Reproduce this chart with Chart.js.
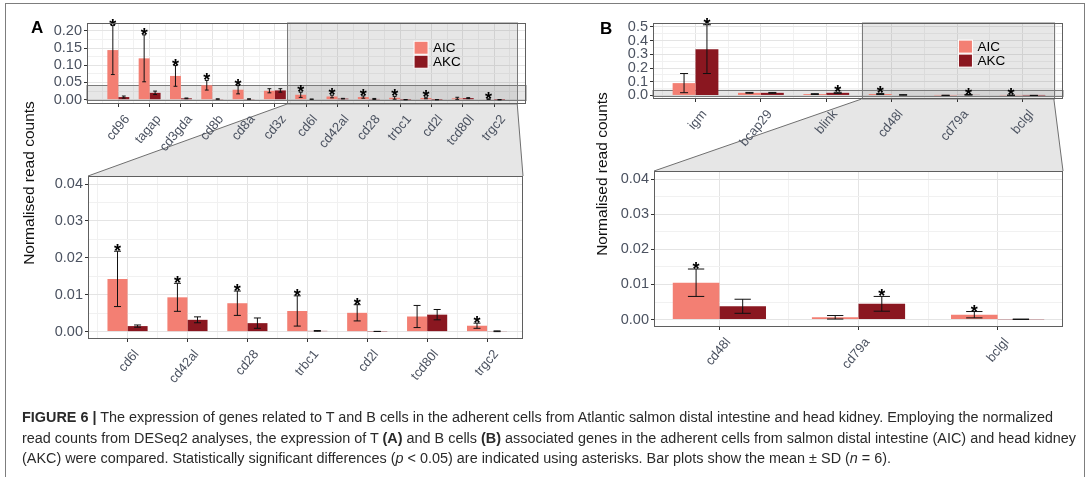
<!DOCTYPE html>
<html>
<head>
<meta charset="utf-8">
<script src="https://cdn.jsdelivr.net/npm/chart.js@4.4.0/dist/chart.umd.min.js"></script>
<style>
  body { margin: 0; background: #fff; width: 1089px; height: 477px; overflow: hidden; position: relative; font-family: "Liberation Sans", Arial, sans-serif; }
  .frame { position: absolute; left: 5px; top: 3px; width: 1078px; height: 500px; border: 1px solid #7d7d7d; }
  canvas { position: absolute; }
  .letter { position: absolute; font-weight: bold; font-size: 17px; color: #000; line-height: 18px; }
  .ytitle { position: absolute; font-size: 15.5px; color: #111; white-space: nowrap; transform: translate(-50%, -50%) rotate(-90deg); }
  .cap { position: absolute; left: 22px; white-space: nowrap; font-size: 14px; line-height: 18px; color: #2a2a2a; transform-origin: 0 50%; }
</style>
</head>
<body>
<div class="frame"></div>
<canvas id="links" width="1089" height="477" style="left:0;top:0"></canvas>

<div class="letter" style="left:31px;top:19px">A</div>
<div class="letter" style="left:600px;top:20px">B</div>
<div class="ytitle" style="left:29px;top:183px">Normalised read counts</div>
<div class="ytitle" style="left:602px;top:174px">Normalised read counts</div>

<div class="cap" id="cap1" style="top:408px"><b>FIGURE 6 |</b> The expression of genes related to T and B cells in the adherent cells from Atlantic salmon distal intestine and head kidney. Employing the normalized</div>
<div class="cap" id="cap2" style="top:429px">read counts from DESeq2 analyses, the expression of T <b>(A)</b> and B cells <b>(B)</b> associated genes in the adherent cells from salmon distal intestine (AIC) and head kidney</div>
<div class="cap" id="cap3" style="top:449px">(AKC) were compared. Statistically significant differences (<i>p</i> &lt; 0.05) are indicated using asterisks. Bar plots show the mean ± SD (<i>n</i> = 6).</div>

<script>
// T cell genes (panel A)
const genesA = ["cd96", "tagap", "cd3gda", "cd8b", "cd8a", "cd3z", "cd6l", "cd42al", "cd28", "trbc1", "cd2l", "tcd80l", "trgc2"];
const aicA   = [0.144, 0.120, 0.069, 0.042, 0.029, 0.026, 0.0143, 0.0093, 0.0077, 0.0056, 0.0051, 0.0041, 0.0016];
const aicSdA = [0.071, 0.068, 0.030, 0.014, 0.012, 0.006, 0.0075, 0.0038, 0.0033, 0.0041, 0.0022, 0.0030, 0.0007];
const akcA   = [0.0077, 0.020, 0.004, 0.002, 0.002, 0.027, 0.0015, 0.0032, 0.0023, 0.0002, 0.00005, 0.0046, 0.0001];
const akcSdA = [0.003, 0.005, 0.001, 0.0005, 0.0005, 0.005, 0.0003, 0.0008, 0.0014, 0.0001, 0.00002, 0.0014, 0.0001];
const sigAicA = [1, 1, 1, 1, 1, 0, 1, 1, 1, 1, 1, 0, 1];
const sigAkcA = [0, 0, 0, 0, 0, 0, 0, 0, 0, 0, 0, 0, 0];

// B cell genes (panel B)
const genesB = ["igm", "bcap29", "blink", "cd48l", "cd79a", "bclgl"];
const aicB   = [0.090, 0.019, 0.010, 0.0105, 0.00066, 0.0014];
const aicSdB = [0.070, 0.003, 0.003, 0.0039, 0.0005, 0.0009];
const akcB   = [0.338, 0.019, 0.019, 0.0038, 0.0045, 0.0001];
const akcSdB = [0.178, 0.003, 0.004, 0.0020, 0.0021, 0.00005];
const sigAicB = [0, 0, 0, 1, 0, 1];
const sigAkcB = [1, 0, 1, 0, 1, 0];

const seriesNames = ["AIC", "AKC"];
const seriesColors = ["#f37f73", "#8a1720"];

const yTicksA = [0, 0.05, 0.10, 0.15, 0.20];
const yTicksB = [0, 0.1, 0.2, 0.3, 0.4, 0.5];
const yTicksZoom = [0, 0.01, 0.02, 0.03, 0.04];

const tickGrey = "#4b5260";
const ML = 70, MT = 12, MR = 16, MB = 62;

function steps(min, max, step) {
    const out = [];
    for (let k = Math.ceil(min / step - 1e-9); k * step <= max + 1e-12; k++) out.push(+(k * step).toFixed(6));
    return out;
}

const panelPlugin = {
    id: "panel",
    beforeDatasetsDraw(chart, args, o) {
        if (!o.band) return;
        const { ctx, chartArea: a, scales: { x, y } } = chart;
        ctx.save();
        ctx.fillStyle = "rgba(120,120,120,0.18)";
        ctx.strokeStyle = "#7a7a7a";
        ctx.lineWidth = 1;
        const x0 = x.getPixelForValue(o.band.x[0]), x1 = x.getPixelForValue(o.band.x[1]);
        ctx.fillRect(x0, a.top, x1 - x0, a.bottom - a.top);
        ctx.strokeRect(Math.round(x0) + 0.5, a.top, Math.round(x1 - x0), a.bottom - a.top);
        const y0 = y.getPixelForValue(o.band.y[1]), y1 = y.getPixelForValue(o.band.y[0]);
        ctx.fillRect(a.left, y0, a.right - a.left, y1 - y0);
        ctx.strokeRect(a.left, Math.round(y0) + 0.5, a.right - a.left, Math.round(y1 - y0));
        ctx.restore();
    },
    afterDatasetsDraw(chart, args, o) {
        const { ctx, chartArea: a, scales: { y } } = chart;
        ctx.save();
        ctx.strokeStyle = "#111";
        ctx.lineWidth = 1;
        ctx.fillStyle = "#000";
        ctx.font = "bold 18px 'Liberation Sans', Arial";
        ctx.textAlign = "center";
        ctx.textBaseline = "alphabetic";
        chart.data.datasets.forEach((ds, di) => {
            chart.getDatasetMeta(di).data.forEach((bar, i) => {
                const { x: bx, width } = bar.getProps(["x", "width"], true);
                const m = ds.data[i].y, sd = o.sd[di][i];
                const top = y.getPixelForValue(m + sd), bot = y.getPixelForValue(m - sd);
                const cap = width * 0.175;
                ctx.beginPath();
                ctx.moveTo(bx, top); ctx.lineTo(bx, bot);
                ctx.moveTo(bx - cap, top); ctx.lineTo(bx + cap, top);
                ctx.moveTo(bx - cap, bot); ctx.lineTo(bx + cap, bot);
                ctx.stroke();
                if (o.sig[di][i]) ctx.fillText("*", bx, top + 6);
            });
        });
        // panel border
        ctx.strokeStyle = "#5f5f5f";
        ctx.strokeRect(a.left + 0.5, a.top + 0.5, a.right - a.left - 1, a.bottom - a.top - 1);
        // legend inside the panel
        if (o.legend) {
            const lx = a.left + 0.745 * (a.right - a.left), ly = a.top + 0.225 * (a.bottom - a.top);
            ctx.font = "13.5px 'Liberation Sans', Arial";
            ctx.textAlign = "left";
            ctx.textBaseline = "middle";
            chart.data.datasets.forEach((ds, k) => {
                ctx.fillStyle = ds.backgroundColor;
                ctx.fillRect(lx, ly + k * 14, 14, 13);
                ctx.strokeStyle = "#fff";
                ctx.strokeRect(lx, ly + k * 14, 14, 13);
                ctx.fillStyle = "#000";
                ctx.fillText(ds.label, lx + 19, ly + k * 14 + 7);
            });
        }
        ctx.restore();
    }
};

function makePanel(cfg) {
    const r = cfg.rect;
    const canvas = document.createElement("canvas");
    const w = r.r - r.l + ML + MR, h = r.b - r.t + MT + MB;
    canvas.width = w; canvas.height = h;
    canvas.style.left = (r.l - ML) + "px";
    canvas.style.top = (r.t - MT) + "px";
    document.body.appendChild(canvas);

    const xVals = steps(cfg.xRange[0], cfg.xRange[1], 0.5);
    const yStep = cfg.yTicks[1] - cfg.yTicks[0];
    const yVals = steps(cfg.yRange[0], cfg.yRange[1], yStep / 2);
    const isMajorX = (v) => Number.isInteger(v);
    const isMajorY = (v) => Math.abs(v / yStep - Math.round(v / yStep)) < 1e-6;

    const series = [cfg.aic, cfg.akc];
    const datasets = seriesNames.map((name, k) => ({
        label: name,
        data: cfg.genes.map((g, i) => ({ x: i, y: series[k][i] })),
        backgroundColor: seriesColors[k],
        borderWidth: 0,
        barPercentage: 1,
        // minor grid ticks halve the ruler spacing, so double the share
        categoryPercentage: 2 * cfg.barFrac,
    }));

    const noPad = (s) => { s.paddingLeft = s.paddingRight = s.paddingTop = s.paddingBottom = 0; };

    return new Chart(canvas, {
        type: "bar",
        data: { datasets },
        options: {
            responsive: false,
            animation: false,
            layout: { padding: { top: MT, right: MR, left: 0, bottom: 0 } },
            plugins: {
                legend: { display: false },
                tooltip: { enabled: false },
                panel: { sd: [cfg.aicSd, cfg.akcSd], sig: [cfg.sigAic, cfg.sigAkc], band: cfg.band, legend: cfg.legend },
            },
            scales: {
                x: {
                    type: "linear",
                    min: cfg.xRange[0], max: cfg.xRange[1],
                    offset: false,
                    border: { display: false },
                    grid: {
                        offset: false,
                        tickLength: 3,
                        color: (c) => isMajorX(c.tick.value) ? "#e4e4e4" : "#f1f1f1",
                        tickColor: (c) => isMajorX(c.tick.value) ? "#333" : "rgba(0,0,0,0)",
                    },
                    ticks: {
                        autoSkip: false, minRotation: 50, maxRotation: 50, padding: 5, labelOffset: 9,
                        color: tickGrey, font: { size: 13, family: "'Liberation Sans', Arial" },
                        callback: (v) => isMajorX(v) ? cfg.genes[v] : "",
                    },
                    afterBuildTicks: (s) => { s.ticks = xVals.map((v) => ({ value: v })); },
                    afterFit: (s) => { s.height = MB; noPad(s); },
                },
                y: {
                    min: cfg.yRange[0], max: cfg.yRange[1],
                    border: { display: false },
                    grid: {
                        tickLength: 3,
                        color: (c) => isMajorY(c.tick.value) ? "#e4e4e4" : "#f1f1f1",
                        tickColor: (c) => isMajorY(c.tick.value) ? "#333" : "rgba(0,0,0,0)",
                    },
                    ticks: {
                        autoSkip: false, padding: 2,
                        color: tickGrey, font: { size: 14.5, family: "'Liberation Sans', Arial" },
                        callback: (v) => isMajorY(v) ? v.toFixed(cfg.yDigits) : "",
                    },
                    afterBuildTicks: (s) => { s.ticks = yVals.map((v) => ({ value: v })); },
                    afterFit: (s) => { s.width = ML; noPad(s); },
                },
            },
        },
        plugins: [panelPlugin],
    });
}

const zoomA = { x: [5.39, 12.74], y: [-0.002, 0.0422] };
const zoomB = { x: [2.54, 5.48], y: [-0.0021, 0.0423] };

const chartA1 = makePanel({
    rect: { l: 87, t: 23, r: 526, b: 104 },
    genes: genesA, aic: aicA, akc: akcA, aicSd: aicSdA, akcSd: akcSdA, sigAic: sigAicA, sigAkc: sigAkcA,
    xRange: [-1, 13.02], yRange: [-0.0124, 0.2225], yTicks: yTicksA, yDigits: 2,
    barFrac: 0.7, band: zoomA, legend: true,
});
const chartA2 = makePanel({
    rect: { l: 88, t: 176, r: 523, b: 339 },
    genes: genesA.slice(6), aic: aicA.slice(6), akc: akcA.slice(6), aicSd: aicSdA.slice(6), akcSd: akcSdA.slice(6),
    sigAic: sigAicA.slice(6), sigAkc: sigAkcA.slice(6),
    xRange: [-0.66, 6.6], yRange: zoomA.y, yTicks: yTicksZoom, yDigits: 2,
    barFrac: 0.67, band: null, legend: false,
});
const chartB1 = makePanel({
    rect: { l: 653, t: 23, r: 1063, b: 99 },
    genes: genesB, aic: aicB, akc: akcB, aicSd: aicSdB, akcSd: akcSdB, sigAic: sigAicB, sigAkc: sigAkcB,
    xRange: [-0.65, 5.62], yRange: [-0.026, 0.529], yTicks: yTicksB, yDigits: 1,
    barFrac: 0.7, band: zoomB, legend: true,
});
const chartB2 = makePanel({
    rect: { l: 654, t: 171, r: 1063, b: 327 },
    genes: genesB.slice(3), aic: aicB.slice(3), akc: akcB.slice(3), aicSd: aicSdB.slice(3), akcSd: akcSdB.slice(3),
    sigAic: sigAicB.slice(3), sigAkc: sigAkcB.slice(3),
    xRange: [-0.47, 2.47], yRange: zoomB.y, yTicks: yTicksZoom, yDigits: 2,
    barFrac: 0.67, band: null, legend: false,
});

// grey funnel from the zoom window to the zoomed panel
function drawLink(top, bottom, band) {
    const ctx = document.getElementById("links").getContext("2d");
    const tx = top.canvas.offsetLeft, ty = top.canvas.offsetTop;
    const bx = bottom.canvas.offsetLeft, by = bottom.canvas.offsetTop;
    const x0 = tx + top.scales.x.getPixelForValue(band.x[0]);
    const x1 = tx + top.scales.x.getPixelForValue(band.x[1]);
    const y0 = ty + top.chartArea.bottom;
    const l = bx + bottom.chartArea.left, r = bx + bottom.chartArea.right, y1 = by + bottom.chartArea.top;
    ctx.fillStyle = "#e6e6e6";
    ctx.beginPath();
    ctx.moveTo(x0, y0); ctx.lineTo(x1, y0); ctx.lineTo(r, y1); ctx.lineTo(l, y1); ctx.closePath();
    ctx.fill();
    ctx.strokeStyle = "#6f6f6f";
    ctx.lineWidth = 1;
    ctx.beginPath();
    ctx.moveTo(x0, y0); ctx.lineTo(l, y1);
    ctx.moveTo(x1, y0); ctx.lineTo(r, y1);
    ctx.stroke();
}
drawLink(chartA1, chartA2, zoomA);
drawLink(chartB1, chartB2, zoomB);

// the printed caption is set narrower: squeeze every line by the factor that fits line 1
const capScale = 1031 / document.getElementById("cap1").getBoundingClientRect().width;
["cap1", "cap2", "cap3"].forEach((id) => {
    document.getElementById(id).style.transform = "scaleX(" + capScale + ")";
});
</script>
</body>
</html>
